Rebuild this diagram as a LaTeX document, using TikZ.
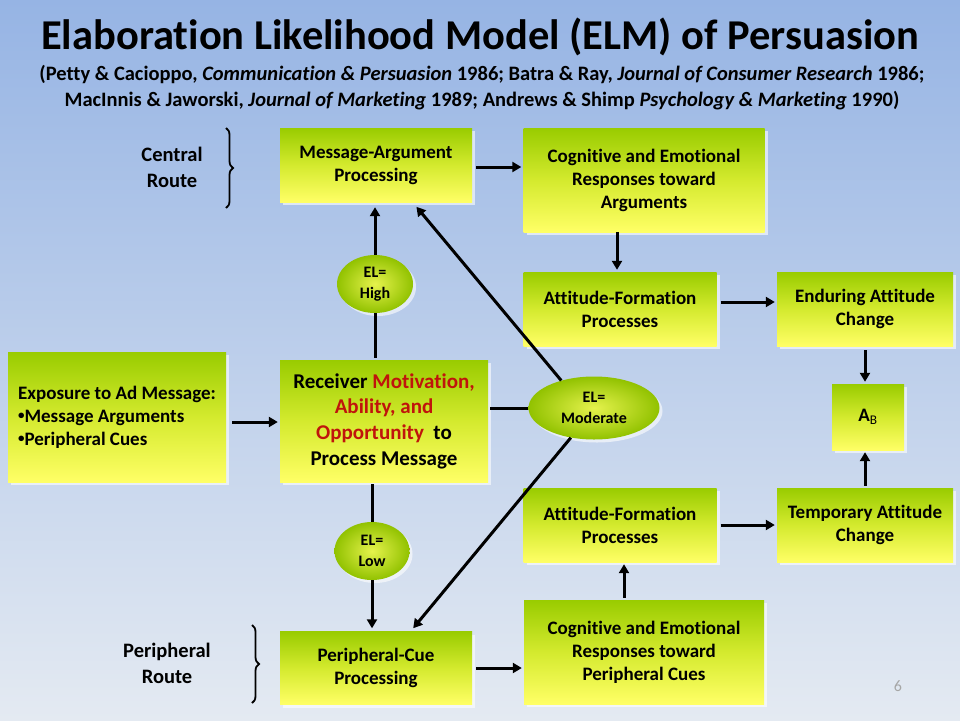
\documentclass[tikz,border=0pt]{standalone}
\usepackage{fontspec}
\setmainfont{Carlito}[Ligatures=NoCommon]
\usetikzlibrary{arrows.meta,positioning,calc,shadows,shapes.geometric,decorations.pathreplacing}
\definecolor{boxgreen}{HTML}{99CC00}
\definecolor{boxmid}{HTML}{D4EA2E}
\definecolor{boxyellow}{HTML}{FFFF66}
\definecolor{bgblue}{HTML}{96B4E4}
\definecolor{bgpale}{HTML}{E4EAF2}
\definecolor{motred}{HTML}{C0140C}
\newcommand{\smallbullet}{\raisebox{0.12em}{\fontsize{13}{13}\selectfont\textbullet}}

\begin{document}
\begin{tikzpicture}[
  x=1pt,
  y=-1pt,
  box/.style={rectangle, top color=boxgreen, bottom color=boxyellow, middle color=boxmid,
    align=center, inner sep=0pt, font=\bfseries\fontsize{19}{23}\selectfont,
    drop shadow={shadow xshift=3pt, shadow yshift=-3pt, fill=white, opacity=0.6}},
  elnode/.style={ellipse, inner sep=0pt, shading=radial, inner color=boxyellow!75!boxgreen,
    outer color=boxgreen!95!black, align=center, font=\bfseries\fontsize{16}{20.5}\selectfont,
    drop shadow={shadow xshift=3pt, shadow yshift=-3pt, fill=white, opacity=0.6}},
  arr/.style={-{Triangle[length=9pt, width=10pt]}, line width=3pt},
  link/.style={line width=3pt},
  route/.style={align=center, font=\bfseries\fontsize{20.5}{26}\selectfont},
  routebrace/.style={decorate, decoration={brace, amplitude=7pt}, line width=1.8pt}
]
  % background and frame size
  \shade[top color=bgblue, bottom color=bgpale] (0,0) rectangle (960,720);
  \useasboundingbox (0,0) rectangle (960,720);

  % title
  \node[font=\bfseries\fontsize{42.5}{48}\selectfont] (title) at (480,37)
    {Elaboration Likelihood Model (ELM) of Persuasion};
  \node[font=\bfseries\fontsize{20.5}{26}\selectfont, align=center] (subtitle) at (482,88)
    {(Petty \& Cacioppo, \textit{Communication \& Persuasion} 1986; Batra \& Ray, \textit{Journal of Consumer Research} 1986;\\
     MacInnis \& Jaworski, \textit{Journal of Marketing} 1989; Andrews \& Shimp \textit{Psychology \& Marketing} 1990)};

  % central route
  \node[box, minimum width=192, minimum height=74] (msgarg) at (376,165) {Message-Argument\\Processing};
  \node[box, minimum width=241, minimum height=104] (cogarg) at (644,180) {Cognitive and Emotional\\Responses toward\\Arguments};
  \node[box, minimum width=193, minimum height=74] (afpup) at (620,309) {Attitude-Formation\\Processes};
  \node[box, minimum width=176, minimum height=74] (enduring) at (865,309) {Enduring Attitude\\Change};

  % middle row
  \node[box, minimum width=218, minimum height=130, align=left] (expo) at (117,417)
    {Exposure to Ad Message:\\\smallbullet Message Arguments\\\smallbullet Peripheral Cues};
  \node[box, minimum width=208, minimum height=122, font=\bfseries\fontsize{21}{25.7}\selectfont] (receiver) at (384,421)
    {Receiver \textcolor{motred}{Motivation,}\\\textcolor{motred}{Ability, and}\\\textcolor{motred}{Opportunity}\ \ to\\Process Message};
  \node[elnode, minimum width=76, minimum height=58] (elhigh) at (375,284) {EL=\\High};
  \node[elnode, minimum width=131, minimum height=63] (elmod) at (594,408) {EL=\\Moderate};
  \node[elnode, minimum width=75, minimum height=58] (ellow) at (372,551) {EL=\\Low};
  \node[box, minimum width=72, minimum height=66] (ab) at (868,417) {A\textsubscript{\mdseries B}};

  % peripheral route
  \node[box, minimum width=193, minimum height=74] (afplow) at (620,525) {Attitude-Formation\\Processes};
  \node[box, minimum width=176, minimum height=74] (temporary) at (865,525) {Temporary Attitude\\Change};
  \node[box, minimum width=240, minimum height=104] (cogcue) at (644,652) {Cognitive and Emotional\\Responses toward\\Peripheral Cues};
  \node[box, minimum width=192, minimum height=73] (cuepro) at (376,668) {Peripheral-Cue\\Processing};

  % route labels
  \node[route] (central) at (172,167) {Central\\Route};
  \node[route] (peripheral) at (167,663) {Peripheral\\Route};
  \draw[routebrace] (226,128) -- (226,208);
  \draw[routebrace] (252,625) -- (252,703);
  \node[text=black!35, font=\fontsize{16}{19}\selectfont] (pagenum) at (898,686) {6};

  % connectors
  \draw[arr, shorten <=4pt, shorten >=2pt] ($(msgarg.east)+(0,2)$) -- ($(msgarg.east -| cogarg.west)+(0,2)$);
  \draw[arr, shorten >=2pt] ($(afpup.north |- cogarg.south)+(-3,0)$) -- ($(afpup.north)+(-3,0)$);
  \draw[arr, shorten <=4pt, shorten >=2pt] ($(afpup.east)+(0,-7)$) -- ($(afpup.east -| enduring.west)+(0,-7)$);
  \draw[arr, shorten <=4pt, shorten >=2pt] ($(ab.north |- enduring.south)+(-3,0)$) -- ($(ab.north)+(-3,0)$);
  \draw[arr, shorten <=2pt, shorten >=2pt] ($(ab.south |- temporary.north)+(-3,0)$) -- ($(ab.south)+(-3,0)$);
  \draw[arr, shorten <=4pt, shorten >=2pt] (afplow.east) -- (afplow.east -| temporary.west);
  \draw[arr, shorten <=2pt, shorten >=2pt] ($(afplow.south |- cogcue.north)+(4,0)$) -- ($(afplow.south)+(4,0)$);
  \draw[arr, shorten <=4pt, shorten >=2pt] (cuepro.east) -- (cuepro.east -| cogcue.west);
  \draw[arr, shorten <=6pt, shorten >=2pt] ($(expo.east)+(0,5)$) -- ($(expo.east -| receiver.west)+(0,5)$);
  \draw[link, shorten <=2pt] (elhigh.south |- receiver.north) -- (elhigh.south);
  \draw[arr, shorten >=5pt] (elhigh.north) -- (elhigh.north |- msgarg.south);
  \draw[link, shorten <=2pt] (ellow.north |- receiver.south) -- (ellow.north);
  \draw[arr, shorten >=3pt] (ellow.south) -- (ellow.south |- cuepro.north);
  \draw[link, shorten <=2pt] (elmod.west -| receiver.east) -- (elmod.west);
  \draw[arr, shorten >=6pt] (elmod.140) -- ($(msgarg.south west)!0.69!(msgarg.south east)$);
  \draw[arr, shorten >=4pt] (elmod.232) -- ($(cuepro.north west)!0.68!(cuepro.north east)$);
\end{tikzpicture}
\end{document}
